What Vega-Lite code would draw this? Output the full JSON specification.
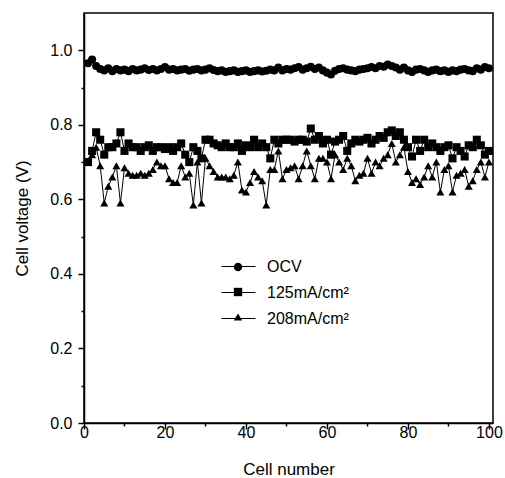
{
  "$schema": "https://vega.github.io/schema/vega-lite/v6.json",
  "width": 409,
  "height": 410,
  "autosize": {"type": "none"},
  "padding": {"left": 84, "top": 13, "right": 12, "bottom": 55},
  "background": "white",
  "config": {
    "view": {"stroke": "black", "strokeWidth": 1.5},
    "font": "Liberation Sans",
    "axis": {
      "domainColor": "black", "domainWidth": 1.5, "ticks": true, "tickColor": "black", "tickWidth": 1.5, "zindex": 1,
      "labelColor": "black", "titleColor": "black", "labelFontSize": 16, "titleFontSize": 17,
      "titleFontWeight": "normal", "labelFont": "Liberation Sans", "titleFont": "Liberation Sans", "grid": false
    }
  },
  "data": {"values": [
    {"cell":1,"OCV":0.965,"125mA/cm²":0.70,"208mA/cm²":0.70},
    {"cell":2,"OCV":0.975,"125mA/cm²":0.73,"208mA/cm²":0.72},
    {"cell":3,"OCV":0.958,"125mA/cm²":0.78,"208mA/cm²":0.74},
    {"cell":4,"OCV":0.950,"125mA/cm²":0.76,"208mA/cm²":0.69},
    {"cell":5,"OCV":0.946,"125mA/cm²":0.72,"208mA/cm²":0.59},
    {"cell":6,"OCV":0.952,"125mA/cm²":0.74,"208mA/cm²":0.635},
    {"cell":7,"OCV":0.944,"125mA/cm²":0.74,"208mA/cm²":0.66},
    {"cell":8,"OCV":0.950,"125mA/cm²":0.75,"208mA/cm²":0.69},
    {"cell":9,"OCV":0.946,"125mA/cm²":0.78,"208mA/cm²":0.59},
    {"cell":10,"OCV":0.948,"125mA/cm²":0.73,"208mA/cm²":0.685},
    {"cell":11,"OCV":0.944,"125mA/cm²":0.75,"208mA/cm²":0.67},
    {"cell":12,"OCV":0.950,"125mA/cm²":0.74,"208mA/cm²":0.665},
    {"cell":13,"OCV":0.946,"125mA/cm²":0.74,"208mA/cm²":0.665},
    {"cell":14,"OCV":0.948,"125mA/cm²":0.73,"208mA/cm²":0.67},
    {"cell":15,"OCV":0.952,"125mA/cm²":0.74,"208mA/cm²":0.665},
    {"cell":16,"OCV":0.947,"125mA/cm²":0.745,"208mA/cm²":0.67},
    {"cell":17,"OCV":0.950,"125mA/cm²":0.73,"208mA/cm²":0.68},
    {"cell":18,"OCV":0.946,"125mA/cm²":0.74,"208mA/cm²":0.70},
    {"cell":19,"OCV":0.950,"125mA/cm²":0.74,"208mA/cm²":0.69},
    {"cell":20,"OCV":0.955,"125mA/cm²":0.735,"208mA/cm²":0.69},
    {"cell":21,"OCV":0.948,"125mA/cm²":0.74,"208mA/cm²":0.655},
    {"cell":22,"OCV":0.950,"125mA/cm²":0.73,"208mA/cm²":0.645},
    {"cell":23,"OCV":0.946,"125mA/cm²":0.74,"208mA/cm²":0.645},
    {"cell":24,"OCV":0.948,"125mA/cm²":0.75,"208mA/cm²":0.69},
    {"cell":25,"OCV":0.950,"125mA/cm²":0.72,"208mA/cm²":0.66},
    {"cell":26,"OCV":0.945,"125mA/cm²":0.70,"208mA/cm²":0.67},
    {"cell":27,"OCV":0.948,"125mA/cm²":0.74,"208mA/cm²":0.585},
    {"cell":28,"OCV":0.950,"125mA/cm²":0.73,"208mA/cm²":0.70},
    {"cell":29,"OCV":0.946,"125mA/cm²":0.71,"208mA/cm²":0.59},
    {"cell":30,"OCV":0.948,"125mA/cm²":0.76,"208mA/cm²":0.71},
    {"cell":31,"OCV":0.952,"125mA/cm²":0.76,"208mA/cm²":0.69},
    {"cell":32,"OCV":0.947,"125mA/cm²":0.75,"208mA/cm²":0.675},
    {"cell":33,"OCV":0.944,"125mA/cm²":0.745,"208mA/cm²":0.66},
    {"cell":34,"OCV":0.946,"125mA/cm²":0.74,"208mA/cm²":0.66},
    {"cell":35,"OCV":0.942,"125mA/cm²":0.75,"208mA/cm²":0.66},
    {"cell":36,"OCV":0.944,"125mA/cm²":0.74,"208mA/cm²":0.655},
    {"cell":37,"OCV":0.946,"125mA/cm²":0.74,"208mA/cm²":0.665},
    {"cell":38,"OCV":0.942,"125mA/cm²":0.75,"208mA/cm²":0.70},
    {"cell":39,"OCV":0.944,"125mA/cm²":0.73,"208mA/cm²":0.625},
    {"cell":40,"OCV":0.946,"125mA/cm²":0.745,"208mA/cm²":0.62},
    {"cell":41,"OCV":0.942,"125mA/cm²":0.74,"208mA/cm²":0.645},
    {"cell":42,"OCV":0.944,"125mA/cm²":0.76,"208mA/cm²":0.675},
    {"cell":43,"OCV":0.946,"125mA/cm²":0.74,"208mA/cm²":0.66},
    {"cell":44,"OCV":0.943,"125mA/cm²":0.75,"208mA/cm²":0.65},
    {"cell":45,"OCV":0.945,"125mA/cm²":0.74,"208mA/cm²":0.585},
    {"cell":46,"OCV":0.948,"125mA/cm²":0.71,"208mA/cm²":0.68},
    {"cell":47,"OCV":0.946,"125mA/cm²":0.76,"208mA/cm²":0.68},
    {"cell":48,"OCV":0.954,"125mA/cm²":0.75,"208mA/cm²":0.73},
    {"cell":49,"OCV":0.946,"125mA/cm²":0.76,"208mA/cm²":0.655},
    {"cell":50,"OCV":0.950,"125mA/cm²":0.76,"208mA/cm²":0.68},
    {"cell":51,"OCV":0.948,"125mA/cm²":0.76,"208mA/cm²":0.685},
    {"cell":52,"OCV":0.952,"125mA/cm²":0.755,"208mA/cm²":0.69},
    {"cell":53,"OCV":0.955,"125mA/cm²":0.76,"208mA/cm²":0.655},
    {"cell":54,"OCV":0.948,"125mA/cm²":0.76,"208mA/cm²":0.69},
    {"cell":55,"OCV":0.952,"125mA/cm²":0.755,"208mA/cm²":0.73},
    {"cell":56,"OCV":0.956,"125mA/cm²":0.79,"208mA/cm²":0.69},
    {"cell":57,"OCV":0.950,"125mA/cm²":0.76,"208mA/cm²":0.655},
    {"cell":58,"OCV":0.954,"125mA/cm²":0.77,"208mA/cm²":0.71},
    {"cell":59,"OCV":0.946,"125mA/cm²":0.75,"208mA/cm²":0.71},
    {"cell":60,"OCV":0.940,"125mA/cm²":0.76,"208mA/cm²":0.70},
    {"cell":61,"OCV":0.935,"125mA/cm²":0.72,"208mA/cm²":0.655},
    {"cell":62,"OCV":0.945,"125mA/cm²":0.755,"208mA/cm²":0.72},
    {"cell":63,"OCV":0.950,"125mA/cm²":0.76,"208mA/cm²":0.70},
    {"cell":64,"OCV":0.952,"125mA/cm²":0.77,"208mA/cm²":0.68},
    {"cell":65,"OCV":0.948,"125mA/cm²":0.73,"208mA/cm²":0.71},
    {"cell":66,"OCV":0.946,"125mA/cm²":0.75,"208mA/cm²":0.69},
    {"cell":67,"OCV":0.944,"125mA/cm²":0.76,"208mA/cm²":0.65},
    {"cell":68,"OCV":0.948,"125mA/cm²":0.755,"208mA/cm²":0.665},
    {"cell":69,"OCV":0.950,"125mA/cm²":0.76,"208mA/cm²":0.67},
    {"cell":70,"OCV":0.952,"125mA/cm²":0.765,"208mA/cm²":0.71},
    {"cell":71,"OCV":0.955,"125mA/cm²":0.75,"208mA/cm²":0.67},
    {"cell":72,"OCV":0.952,"125mA/cm²":0.76,"208mA/cm²":0.70},
    {"cell":73,"OCV":0.958,"125mA/cm²":0.77,"208mA/cm²":0.69},
    {"cell":74,"OCV":0.956,"125mA/cm²":0.765,"208mA/cm²":0.71},
    {"cell":75,"OCV":0.962,"125mA/cm²":0.78,"208mA/cm²":0.72},
    {"cell":76,"OCV":0.958,"125mA/cm²":0.785,"208mA/cm²":0.75},
    {"cell":77,"OCV":0.954,"125mA/cm²":0.77,"208mA/cm²":0.70},
    {"cell":78,"OCV":0.948,"125mA/cm²":0.78,"208mA/cm²":0.72},
    {"cell":79,"OCV":0.954,"125mA/cm²":0.76,"208mA/cm²":0.74},
    {"cell":80,"OCV":0.946,"125mA/cm²":0.74,"208mA/cm²":0.675},
    {"cell":81,"OCV":0.942,"125mA/cm²":0.715,"208mA/cm²":0.645},
    {"cell":82,"OCV":0.948,"125mA/cm²":0.76,"208mA/cm²":0.655},
    {"cell":83,"OCV":0.950,"125mA/cm²":0.73,"208mA/cm²":0.64},
    {"cell":84,"OCV":0.946,"125mA/cm²":0.76,"208mA/cm²":0.66},
    {"cell":85,"OCV":0.942,"125mA/cm²":0.74,"208mA/cm²":0.69},
    {"cell":86,"OCV":0.946,"125mA/cm²":0.75,"208mA/cm²":0.66},
    {"cell":87,"OCV":0.948,"125mA/cm²":0.74,"208mA/cm²":0.70},
    {"cell":88,"OCV":0.944,"125mA/cm²":0.73,"208mA/cm²":0.62},
    {"cell":89,"OCV":0.946,"125mA/cm²":0.74,"208mA/cm²":0.68},
    {"cell":90,"OCV":0.942,"125mA/cm²":0.745,"208mA/cm²":0.69},
    {"cell":91,"OCV":0.946,"125mA/cm²":0.71,"208mA/cm²":0.62},
    {"cell":92,"OCV":0.944,"125mA/cm²":0.74,"208mA/cm²":0.665},
    {"cell":93,"OCV":0.948,"125mA/cm²":0.73,"208mA/cm²":0.67},
    {"cell":94,"OCV":0.950,"125mA/cm²":0.715,"208mA/cm²":0.68},
    {"cell":95,"OCV":0.946,"125mA/cm²":0.745,"208mA/cm²":0.635},
    {"cell":96,"OCV":0.944,"125mA/cm²":0.74,"208mA/cm²":0.65},
    {"cell":97,"OCV":0.952,"125mA/cm²":0.76,"208mA/cm²":0.68},
    {"cell":98,"OCV":0.948,"125mA/cm²":0.745,"208mA/cm²":0.70},
    {"cell":99,"OCV":0.955,"125mA/cm²":0.72,"208mA/cm²":0.66},
    {"cell":100,"OCV":0.952,"125mA/cm²":0.73,"208mA/cm²":0.70}
  ]},
  "transform": [{"fold": ["OCV", "125mA/cm²", "208mA/cm²"], "as": ["series", "v"]}],
  "layer": [
    {"mark": {"type": "line", "strokeWidth": 1},
     "encoding": {
       "x": {"field": "cell", "type": "quantitative",
         "scale": {"domain": [0, 101], "nice": false},
         "axis": {"title": "Cell number", "values": [0,20,40,60,80,100], "orient": "bottom",
           "tickSize": 6, "labelPadding": -5, "titlePadding": 21, "labelFlush": false,
           "encode": {"ticks": {"update": {"y2": {"value": -6}}}}}},
       "y": {"field": "v", "type": "quantitative",
         "scale": {"domain": [0, 1.1], "nice": false},
         "axis": {"title": "Cell voltage (V)", "values": [0,0.2,0.4,0.6,0.8,1.0], "orient": "left",
           "format": ".1f", "tickSize": 6, "labelPadding": 6, "titlePadding": 18, "labelFlush": false,
           "encode": {"ticks": {"update": {"x2": {"value": 6}}}}}},
       "color": {"field": "series", "type": "nominal", "sort": ["OCV", "125mA/cm²", "208mA/cm²"],
         "scale": {"range": ["black", "black", "black"]},
         "legend": {"orient": "none", "legendX": 137, "legendY": 236, "title": null,
           "symbolType": "stroke", "symbolSize": 1156, "symbolStrokeWidth": 1, "symbolStrokeColor": "black",
           "labelFontSize": 16, "labelFont": "Liberation Sans", "labelColor": "black", "labelOffset": 11, "rowPadding": 0, "padding": 0}},
       "order": {"field": "cell"}}},
    {"mark": {"type": "point", "filled": true, "color": "black", "opacity": 1, "size": 65},
     "encoding": {
       "x": {"field": "cell", "type": "quantitative", "axis": null},
       "y": {"field": "v", "type": "quantitative", "axis": null},
       "shape": {"field": "series", "type": "nominal",
         "scale": {"domain": ["OCV", "125mA/cm²", "208mA/cm²"], "range": ["circle", "square", "triangle-up"]},
         "legend": {"orient": "none", "legendX": 146, "legendY": 246, "title": null,
           "symbolSize": 70, "symbolFillColor": "black", "symbolStrokeColor": "black", "symbolOpacity": 1,
           "labelExpr": "''", "labelFontSize": 16, "labelOffset": 0, "rowPadding": 9, "padding": 0}}
     }},
    {"transform": [{"filter": "datum.cell < 0"}],
     "mark": {"type": "point", "opacity": 0},
     "encoding": {
       "x": {"field": "cell", "type": "quantitative",
         "axis": {"values": [10,30,50,70,90], "orient": "bottom", "labels": false, "title": null, "domain": false, "tickSize": 3,
           "encode": {"ticks": {"update": {"y2": {"value": -3}}}}}},
       "y": {"field": "v", "type": "quantitative",
         "axis": {"values": [0.1,0.3,0.5,0.7,0.9], "orient": "left", "labels": false, "title": null, "domain": false, "tickSize": 3,
           "encode": {"ticks": {"update": {"x2": {"value": 3}}}}}}
     }}
  ],
  "resolve": {"axis": {"x": "independent", "y": "independent"}}
}
